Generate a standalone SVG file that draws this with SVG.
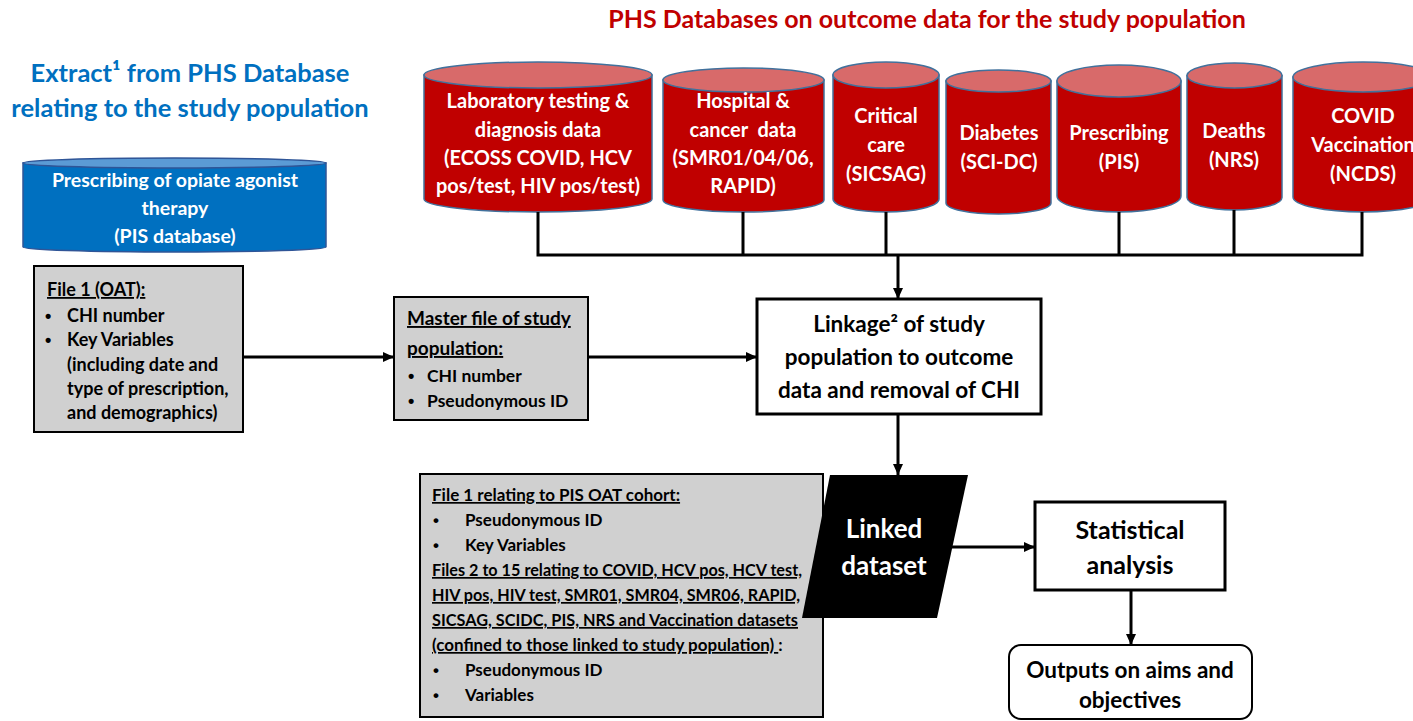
<svg xmlns="http://www.w3.org/2000/svg" width="1413" height="721" viewBox="0 0 1413 721">
<style>
text{font-family:Lato,"Liberation Sans",sans-serif;font-weight:700}
.rt{fill:#C00000;font-size:25px}
.bt{fill:#0070C0;font-size:25.5px}
.cyl{fill:#C00000;stroke:#41719C;stroke-width:1.5}
.cyltop{fill:#D86A6A;stroke:#41719C;stroke-width:1.5}
.bcyl{fill:#0070C0;stroke:#2F5597;stroke-width:1.5}
.bcyltop{fill:#5B9BD5;stroke:#2F5597;stroke-width:1.5}
.ct{fill:#fff;font-size:20px;text-anchor:middle}
.gray{fill:#D0D0D0;stroke:#000;stroke-width:2}
.wbox{fill:#fff;stroke:#000;stroke-width:3}
.t17{fill:#000;font-size:17px}
.t18{fill:#000;font-size:18px}
.bl{font-family:"Liberation Sans",sans-serif}
.u{text-decoration:underline}
.mid{text-anchor:middle}
.con{fill:none;stroke:#000;stroke-width:3}
</style>
<defs>
<marker id="ah" markerUnits="userSpaceOnUse" markerWidth="11" markerHeight="10" refX="11" refY="5" orient="auto">
<path d="M0,0 L11,5 L0,10 z" fill="#000"/>
</marker>
</defs>

<g id="title-outcome">
<text class="rt mid" x="927" y="28">PHS Databases on outcome data for the study population</text>
</g>
<g id="title-extract">
<text class="bt mid" x="190" y="82">Extract¹ from PHS Database</text>
<text class="bt mid" x="190" y="117">relating to the study population</text>
</g>

<g id="db-oat">
<path class="bcyl" d="M23,163 L23,247 A151.5,5 0 0 0 326,247 L326,163 Z"/>
<ellipse class="bcyltop" cx="174.5" cy="163" rx="151.5" ry="5"/>
<text class="ct" style="font-size:19.5px" x="175" y="187">Prescribing of opiate agonist</text>
<text class="ct" style="font-size:19.5px" x="175" y="215">therapy</text>
<text class="ct" style="font-size:19.5px" x="175" y="243">(PIS database)</text>
</g>

<g id="db-lab">
<path class="cyl" d="M424,75 L424,199 A114,13 0 0 0 652,199 L652,75 Z"/>
<ellipse class="cyltop" cx="538" cy="75" rx="114" ry="13"/>
<text class="ct" x="538" y="108">Laboratory testing &amp;</text>
<text class="ct" x="538" y="137">diagnosis data</text>
<text class="ct" x="538" y="165">(ECOSS COVID, HCV</text>
<text class="ct" x="538" y="193">pos/test, HIV pos/test)</text>
</g>

<g id="db-hospital">
<path class="cyl" d="M663,80 L663,200 A80.5,12 0 0 0 824,200 L824,80 Z"/>
<ellipse class="cyltop" cx="743.5" cy="80" rx="80.5" ry="12"/>
<text class="ct" x="743" y="108">Hospital &amp;</text>
<text class="ct" x="743" y="137" xml:space="preserve">cancer  data</text>
<text class="ct" x="743" y="165">(SMR01/04/06,</text>
<text class="ct" x="743" y="193">RAPID)</text>
</g>

<g id="db-critical">
<path class="cyl" d="M833,75 L833,199 A53,13 0 0 0 939,199 L939,75 Z"/>
<ellipse class="cyltop" cx="886" cy="75" rx="53" ry="13"/>
<text class="ct" x="886" y="123">Critical</text>
<text class="ct" x="886" y="152">care</text>
<text class="ct" x="886" y="181">(SICSAG)</text>
</g>

<g id="db-diabetes">
<path class="cyl" d="M946,81 L946,203 A52.5,11 0 0 0 1051,203 L1051,81 Z"/>
<ellipse class="cyltop" cx="998.5" cy="81" rx="52.5" ry="11"/>
<text class="ct" x="999" y="140">Diabetes</text>
<text class="ct" x="999" y="169">(SCI-DC)</text>
</g>

<g id="db-prescribing">
<path class="cyl" d="M1057,81 L1057,196 A62,16 0 0 0 1181,196 L1181,81 Z"/>
<ellipse class="cyltop" cx="1119" cy="81" rx="62" ry="16"/>
<text class="ct" x="1119" y="140">Prescribing</text>
<text class="ct" x="1119" y="169">(PIS)</text>
</g>

<g id="db-deaths">
<path class="cyl" d="M1187,75.5 L1187,197.5 A47.5,12.5 0 0 0 1282,197.5 L1282,75.5 Z"/>
<ellipse class="cyltop" cx="1234.5" cy="75.5" rx="47.5" ry="12.5"/>
<text class="ct" x="1234" y="138">Deaths</text>
<text class="ct" x="1234" y="167">(NRS)</text>
</g>

<g id="db-vaccination">
<path class="cyl" d="M1293,77 L1293,197 A70,15 0 0 0 1433,197 L1433,77 Z"/>
<ellipse class="cyltop" cx="1363" cy="77" rx="70" ry="15"/>
<text class="ct" x="1363" y="123">COVID</text>
<text class="ct" x="1363" y="152">Vaccination</text>
<text class="ct" x="1363" y="181">(NCDS)</text>
</g>

<g id="connectors">
<path class="con" d="M538,212 V255 M743,212 V255 M886,212 V255 M1119,212 V255 M1234,210 V255 M1362,212 V255 M536.5,255 H1363.5"/>
<path class="con" d="M898,255 V299" marker-end="url(#ah)"/>
<path class="con" d="M243,357 H394" marker-end="url(#ah)"/>
<path class="con" d="M588,357 H757" marker-end="url(#ah)"/>
<path class="con" d="M898,414 V475" marker-end="url(#ah)"/>
<path class="con" d="M952,547 H1035" marker-end="url(#ah)"/>
<path class="con" d="M1131,590 V645" marker-end="url(#ah)"/>
</g>

<g id="file1">
<rect class="gray" x="34" y="266" width="209" height="166"/>
<text class="t18 u" x="47" y="296">File 1 (OAT):</text>
<text class="t18 bl" x="45" y="322">•</text>
<text class="t18" x="67" y="322">CHI number</text>
<text class="t18 bl" x="45" y="346">•</text>
<text class="t18" x="67" y="346">Key Variables</text>
<text class="t18" x="67" y="371">(including date and</text>
<text class="t18" x="67" y="395">type of prescription,</text>
<text class="t18" x="67" y="419">and demographics)</text>
</g>

<g id="master">
<rect class="gray" x="394" y="297" width="194" height="123"/>
<text class="t18 u" style="font-size:19px" x="407" y="325">Master file of study</text>
<text class="t18 u" style="font-size:19px" x="407" y="355">population:</text>
<text class="t18 bl" x="408" y="382">•</text>
<text class="t18" style="font-size:17.5px" x="427" y="382">CHI number</text>
<text class="t18 bl" x="408" y="407">•</text>
<text class="t18" style="font-size:17.5px" x="427" y="407">Pseudonymous ID</text>
</g>

<g id="linkage">
<rect class="wbox" x="757" y="299" width="284" height="115"/>
<text class="mid" style="font-size:22.5px" x="899" y="332">Linkage² of study</text>
<text class="mid" style="font-size:22.5px" x="899" y="365">population to outcome</text>
<text class="mid" style="font-size:22.5px" x="899" y="398">data and removal of CHI</text>
</g>

<g id="files">
<rect class="gray" x="420" y="474" width="403" height="243"/>
<text class="t17 u" x="432" y="501">File 1 relating to PIS OAT cohort:</text>
<text class="t17 bl" x="433" y="526">•</text>
<text class="t17" x="465" y="526">Pseudonymous ID</text>
<text class="t17 bl" x="433" y="551">•</text>
<text class="t17" x="465" y="551">Key Variables</text>
<text class="t17 u" x="432" y="576" textLength="370" lengthAdjust="spacingAndGlyphs">Files 2 to 15 relating to COVID, HCV pos, HCV test,</text>
<text class="t17 u" x="432" y="601" textLength="368" lengthAdjust="spacingAndGlyphs">HIV pos, HIV test, SMR01, SMR04, SMR06, RAPID,</text>
<text class="t17 u" x="432" y="626" textLength="366" lengthAdjust="spacingAndGlyphs">SICSAG, SCIDC, PIS, NRS and Vaccination datasets</text>
<text class="t17" x="432" y="651"><tspan class="u">(confined to those linked to study population) </tspan>:</text>
<text class="t17 bl" x="433" y="676">•</text>
<text class="t17" x="465" y="676">Pseudonymous ID</text>
<text class="t17 bl" x="433" y="701">•</text>
<text class="t17" x="465" y="701">Variables</text>
</g>

<g id="linked">
<path d="M830,475 L968,475 L937,618 L802,618 Z" fill="#000"/>
<text class="mid" style="font-size:26px;fill:#fff" x="884" y="538">Linked</text>
<text class="mid" style="font-size:26px;fill:#fff" x="884" y="575">dataset</text>
</g>

<g id="statistical">
<rect class="wbox" x="1035" y="502" width="190" height="88"/>
<text class="mid" style="font-size:25px" x="1130" y="539">Statistical</text>
<text class="mid" style="font-size:25px" x="1130" y="574">analysis</text>
</g>

<g id="outputs">
<rect x="1009" y="645" width="243" height="74" rx="12" ry="12" fill="#fff" stroke="#000" stroke-width="2"/>
<text class="mid" style="font-size:22.5px" x="1130" y="678">Outputs on aims and</text>
<text class="mid" style="font-size:22.5px" x="1130" y="708">objectives</text>
</g>
</svg>
